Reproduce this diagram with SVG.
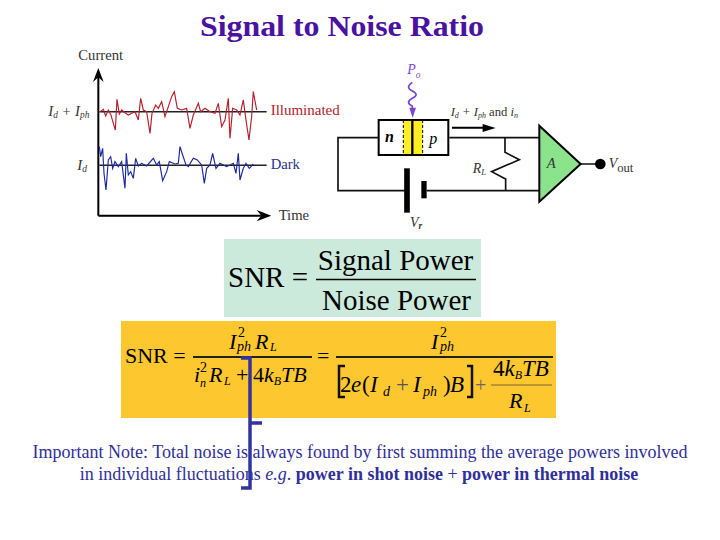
<svg xmlns="http://www.w3.org/2000/svg" width="720" height="540" viewBox="0 0 720 540">
<style>
text{font-family:"Liberation Serif","Times New Roman",serif;fill:#000}
.i{font-style:italic}
.g{fill:#333}
.t{fill:#2f2f9a}
.b{font-weight:bold}
</style>
<rect width="720" height="540" fill="#fff"/>
<text id="title" x="342" y="36" font-size="29" font-weight="bold" text-anchor="middle" style="fill:#4a12a0" textLength="284" lengthAdjust="spacingAndGlyphs">Signal to Noise Ratio</text>

<g id="graph" transform="translate(40 40) scale(.3333)">
<path d="M175 527V95M175 527H680" fill="none" stroke="#000" stroke-width="6"/>
<path d="M175 84L191 126L175 112L159 126ZM694 527L650 510L664 527L650 544Z" fill="#000"/>
<path d="M178 215H680M178 376H680" stroke="#222" stroke-width="4.500"/>
<path d="M180 215L190 208L197 228L205 210L213 225L220 250L226 270L231 178L238 222L245 210L255 218L265 225L275 220L285 215L295 240L302 175L310 210L320 215L330 280L336 220L347 195L355 205L365 185L375 230L385 200L395 170L403 155L412 205L425 210L440 205L450 265L460 225L475 190L482 215L495 205L510 215L525 220L535 190L545 260L555 240L565 175L570 295L578 205L590 210L600 225L610 180L618 240L627 300L635 230L640 155L650 210" fill="none" stroke="#b5202c" stroke-width="3.500"/>
<path d="M178 320L182 350L188 325L192 400L198 450L205 360L212 350L218 385L225 365L235 380L245 365L255 445L259 340L265 405L272 395L280 415L287 355L295 378L305 370L320 378L340 355L350 375L358 365L368 422L380 395L388 365L405 372L415 370L420 320L428 345L438 375L445 380L460 355L472 360L485 375L493 430L500 385L510 375L518 340L528 385L540 370L560 380L580 370L588 400L595 340L600 420L610 385L618 370L628 385L640 372" fill="none" stroke="#1d2a9e" stroke-width="3.500"/>
<text x="115" y="60" font-size="44" class="g">Current</text>
<text x="716" y="540" font-size="44" class="g">Time</text>
<text x="692" y="226" font-size="45" style="fill:#b5202c">Illuminated</text>
<text x="692" y="386" font-size="44" style="fill:#28308f">Dark</text>
<text x="25" y="228" font-size="44" class="i g">I<tspan font-size="28" dy="6">d</tspan><tspan dy="-6"> + I</tspan><tspan font-size="28" dy="6">ph</tspan></text>
<text x="112" y="390" font-size="44" class="i g">I<tspan font-size="28" dy="6">d</tspan></text>
</g>

<g id="circuit" transform="translate(330 55) scale(.3333)">
<rect x="220" y="195" width="58" height="105" fill="#ffee22"/>
<rect x="146" y="195" width="209" height="105" fill="none" stroke="#000" stroke-width="6"/>
<path d="M220 195V300M278 195V300" stroke="#000" stroke-width="3" stroke-dasharray="9 6"/>
<path d="M247 195V300" stroke="#000" stroke-width="7"/>
<path d="M146 248H24V407H225M290 407H628M358 248H628M525 248V292L568 314L485 350L527 372V407M752 327H800" fill="none" stroke="#111" stroke-width="5"/>
<path d="M231 340V473" stroke="#000" stroke-width="17"/>
<path d="M282 378V430" stroke="#000" stroke-width="16"/>
<polygon points="628,212 752,327 628,440" fill="#8be38b" stroke="#000" stroke-width="6"/>
<circle cx="811" cy="327" r="16" fill="#000"/>
<path d="M366 218H465" stroke="#000" stroke-width="6"/>
<path d="M497 219L458 207V231Z" fill="#000"/>
<path d="M247 82C232 92 232 100 247 108C262 116 262 122 247 130C232 138 232 146 247 154V165" fill="none" stroke="#7a45d0" stroke-width="5"/>
<path d="M248 188L238 158H258Z" fill="#7a45d0"/>
<text x="232" y="58" font-size="42" class="i" style="fill:#7a45d0">P<tspan font-size="28" dy="10">o</tspan></text>
<text x="362" y="183" font-size="38" class="i g">I<tspan font-size="24" dy="6">d</tspan><tspan dy="-6"> + I</tspan><tspan font-size="24" dy="6">ph</tspan><tspan dy="-6" style="font-style:normal"> and </tspan>i<tspan font-size="24" dy="6">n</tspan></text>
<text x="165" y="262" font-size="48" font-weight="bold" class="i">n</text>
<text x="298" y="268" font-size="48" class="i">p</text>
<text x="428" y="353" font-size="42" class="i g">R<tspan font-size="26" dy="8">L</tspan></text>
<text x="650" y="338" font-size="44" class="i g">A</text>
<text x="836" y="340" font-size="42" class="g"><tspan class="i">V</tspan><tspan font-size="38" dy="10">out</tspan></text>
<text x="240" y="515" font-size="42" class="i g">V<tspan font-size="28" dy="8" font-weight="bold">r</tspan></text>
</g>

<g id="eq1">
<rect x="224" y="239" width="257" height="78" fill="#cbeadc"/>
<text x="228" y="287" font-size="29">SNR =</text>
<text x="395.500" y="270" font-size="29" text-anchor="middle">Signal Power</text>
<path d="M316 279.500H476" stroke="#000" stroke-width="1.500"/>
<text x="396.500" y="310" font-size="29" text-anchor="middle">Noise Power</text>
</g>

<g id="eq2">
<rect x="121" y="321" width="435" height="97" fill="#fdc82f"/>
<text x="125" y="363" font-size="22">SNR =</text>
<path d="M193 357H312M336 357H553" stroke="#222" stroke-width="2"/>
<text x="317" y="363" font-size="22">=</text>
<text x="229" y="349" font-size="22" class="i">I</text>
<text x="238" y="337" font-size="14">2</text>
<text x="237" y="351" font-size="14" class="i">ph</text>
<text x="255" y="349" font-size="22" class="i">R</text>
<text x="270" y="351" font-size="12" class="i">L</text>
<text x="194" y="382" font-size="22" class="i">i</text>
<text x="200" y="372" font-size="14">2</text>
<text x="200" y="387" font-size="12" class="i">n</text>
<text x="209" y="382" font-size="22" class="i">R</text>
<text x="224" y="385" font-size="12" class="i">L</text>
<text x="236" y="382" font-size="22">+</text>
<text x="253" y="382" font-size="22">4<tspan class="i">k</tspan><tspan class="i" font-size="12" dy="3">B</tspan><tspan class="i" dy="-3">TB</tspan></text>
<text x="431" y="349" font-size="22" class="i">I</text>
<text x="440" y="337" font-size="14">2</text>
<text x="440" y="351" font-size="14" class="i">ph</text>
<text y="392" font-size="23"><tspan x="340">2</tspan><tspan x="351" class="i">e</tspan><tspan x="362">(</tspan><tspan x="370" class="i">I</tspan><tspan x="383" y="396" class="i" font-size="14">d</tspan><tspan x="396" y="392" style="fill:#555">+</tspan><tspan x="413" class="i">I</tspan><tspan x="423" y="396" class="i" font-size="14">ph</tspan><tspan x="443" y="392">)</tspan><tspan x="450" class="i">B</tspan></text>
<path d="M345 366H339V397H345M467 366H472V397H467" fill="none" stroke="#111" stroke-width="2.500"/>
<text x="475" y="392" font-size="20" style="fill:#666">+</text>
<path d="M491 385H552" stroke="#776633" stroke-width="1"/>
<text x="493" y="376" font-size="23">4<tspan class="i">k</tspan><tspan class="i" font-size="12" dy="3">B</tspan><tspan class="i" dy="-3">TB</tspan></text>
<text x="509" y="408" font-size="22" class="i">R</text>
<text x="524" y="412" font-size="12" class="i">L</text>
</g>

<g id="note">
<text x="360" y="458" font-size="18" text-anchor="middle" class="t">Important Note: Total noise is always found by first summing the average powers involved</text>
<text x="359" y="480" font-size="18" text-anchor="middle" class="t">in individual fluctuations <tspan class="i">e.g</tspan>. <tspan class="b">power in shot noise</tspan> + <tspan class="b">power in thermal noise</tspan></text>
</g>

<g id="connectors">
<path d="M241 358H250V488H241M250 423H262" fill="none" stroke="#3333a0" stroke-width="3.500"/>
</g>
</svg>
